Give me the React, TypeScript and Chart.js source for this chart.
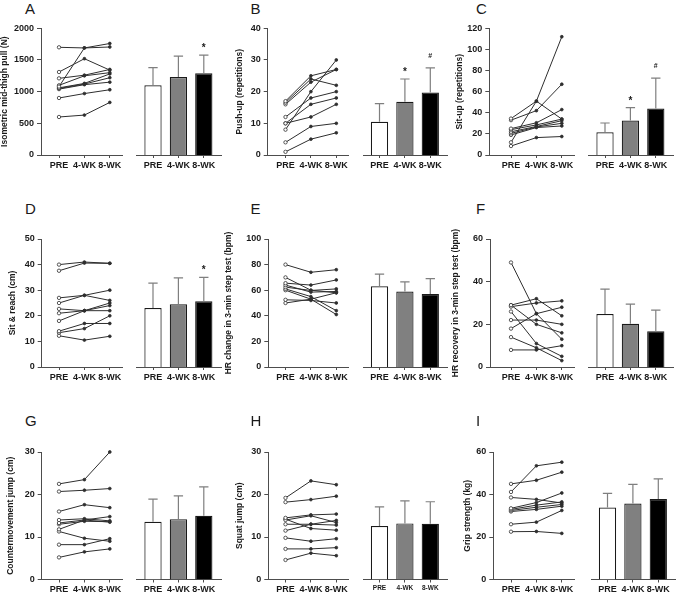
import React, { useEffect, useRef } from 'react';
import { Chart, registerables } from 'chart.js';

Chart.register(...registerables);

// ---- data -------------------------------------------------------------
const timepoints = ['PRE', '4-WK', '8-WK'];

// A: isometric mid-thigh pull (N), one row per participant
const imtpSubjects = [
  [1700, 1690, 1705],
  [1080, 1690, 1760],
  [1310, 1520, 1340],
  [1210, 1260, 1350],
  [1100, 1250, 1300],
  [1060, 1130, 1280],
  [1050, 1120, 1220],
  [1040, 1110, 1150],
  [900, 970, 1030],
  [600, 630, 830],
];
const imtpMean = [1100, 1230, 1290];
const imtpSd = [280, 330, 285];
const imtpMarks = ['', '', '*'];

// B: push-up (repetitions)
const pushSubjects = [
  [17, 25, 27],
  [16.5, 24, 22],
  [16, 23, 27],
  [12, 18, 20],
  [10, 16, 18],
  [8, 20, 30],
  [10, 12, 16],
  [4, 9, 10],
  [1, 5, 7],
];
const pushMean = [10.5, 16.8, 19.7];
const pushSd = [5.7, 7.2, 7.8];
const pushMarks = ['', '*', '#'];

// C: sit-up (repetitions)
const situpSubjects = [
  [12, 51, 112],
  [34.5, 51, 34],
  [33, 42, 67],
  [25, 30.5, 43],
  [24, 28.5, 34],
  [22, 27, 32.5],
  [20.5, 26.5, 30],
  [19, 26, 27.5],
  [8.5, 16.5, 17.5],
];
const situpMean = [21.5, 32.7, 44];
const situpSd = [8.8, 12.1, 28.8];
const situpMarks = ['', '*', '#'];

// D: sit & reach (cm)
const reachSubjects = [
  [40, 41, 40.5],
  [37.6, 40.6, 40.5],
  [27, 28, 26],
  [25, 28, 30],
  [22.7, 22, 22],
  [21, 22, 25],
  [18, 22, 24],
  [14, 17, 17],
  [13.4, 15, 20],
  [12.2, 10.5, 12],
];
const reachMean = [23, 24.5, 25.7];
const reachSd = [9.8, 10.3, 9.3];
const reachMarks = ['', '', '*'];

// E: HR change in 3-min step test (bpm)
const hrChangeSubjects = [
  [80, 74, 76],
  [70, 60, 58],
  [65.5, 64, 68],
  [64, 58.5, 59],
  [62.4, 59.8, 61],
  [61, 55, 44],
  [60, 53, 41],
  [52.5, 52, 50],
  [50, 53, 58],
];
const hrChangeMean = [63, 59, 57];
const hrChangeSd = [9.5, 7.5, 12];
const hrChangeMarks = ['', '', ''];

// F: HR recovery in 3-min step test (bpm)
const hrRecoverySubjects = [
  [49, 25, 13],
  [29, 32, 24],
  [28.3, 30, 31],
  [26, 11, 5],
  [22, 22, 20],
  [18, 25, 28],
  [14, 9, 3],
  [8, 8, 10],
  [29, 20, 16],
];
const hrRecoveryMean = [24.8, 20.3, 16.8];
const hrRecoverySd = [11.7, 9.2, 9.9];
const hrRecoveryMarks = ['', '', ''];

// G: countermovement jump (cm)
const cmjSubjects = [
  [22.5, 23.5, 30],
  [20.7, 21, 21.4],
  [16, 17.6, 16.9],
  [14, 14.3, 13.8],
  [13.3, 14, 14.8],
  [13, 13.7, 13.6],
  [11.8, 14, 13.5],
  [11.3, 9.7, 9],
  [8.2, 8.2, 9.6],
  [5.2, 6.5, 7.2],
];
const cmjMean = [13.6, 14.2, 15];
const cmjSd = [5.3, 5.5, 6.8];
const cmjMarks = ['', '', ''];

// H: squat jump (cm)
const sjSubjects = [
  [19.2, 23.2, 22.3],
  [18.2, 18.8, 19.6],
  [14.5, 15.2, 15.4],
  [14, 15, 13.4],
  [13, 13, 13.9],
  [11.5, 13, 12.8],
  [14.2, 12, 11.6],
  [9.8, 9, 9.6],
  [7.2, 7.2, 7.5],
  [4.6, 6.2, 5.6],
];
const sjMean = [12.6, 13.2, 13.1];
const sjSd = [4.5, 5.3, 5.2];
const sjMarks = ['', '', ''];

// I: grip strength (kg)
const gripSubjects = [
  [45, 46.7, 50.5],
  [41.2, 53.5, 55.2],
  [38.6, 37.7, 36],
  [33.5, 36.2, 40.7],
  [33, 35, 36.5],
  [32.5, 34, 35.3],
  [32, 33, 34.5],
  [26, 27, 32.5],
  [22.5, 22.6, 21.7],
];
const gripMean = [33.9, 35.8, 37.9];
const gripSd = [6.6, 9, 9.5];
const gripMarks = ['', '', ''];

// ---- styling / layout ---------------------------------------------------
const FONT = "'Liberation Sans', Arial, Helvetica, sans-serif";
const ink = '#1a1a1a';
const lineInk = '#2e2e2e';
const axisInk = '#4d4d4d';
const errInk = '#7f7f7f';
const barFills = ['#ffffff', '#808080', '#000000'];

const SPACING = 25.4; // px between time points
const colPre = [59, 285.5, 511];
const rowTop = [28.3, 239, 452];
const rowZero = [155, 367, 579.5];
const colLetterX = [25, 250.5, 476];
const rowLetterY = [1, 201, 413];

type PanelSpec = {
  letter: string;
  title: string;
  col: number;
  row: number;
  axisX: number;
  titleX: number;
  yMax: number;
  yStep: number;
  subjects: number[][];
  mean: number[];
  sd: number[];
  marks: string[];
  titleSize?: number;
  barTickSize?: number;
  barNudge?: number;
};

const panels: PanelSpec[] = [
  { letter: 'A', title: 'Isometric mid-thigh pull (N)', col: 0, row: 0, axisX: 41, titleX: 5, yMax: 2000, yStep: 500, subjects: imtpSubjects, mean: imtpMean, sd: imtpSd, marks: imtpMarks },
  { letter: 'B', title: 'Push-up (repetitions)', col: 1, row: 0, axisX: 267.7, titleX: 240, yMax: 40, yStep: 10, subjects: pushSubjects, mean: pushMean, sd: pushSd, marks: pushMarks },
  { letter: 'C', title: 'Sit-up (repetitions)', col: 2, row: 0, axisX: 489.3, titleX: 460.5, yMax: 120, yStep: 20, subjects: situpSubjects, mean: situpMean, sd: situpSd, marks: situpMarks },
  { letter: 'D', title: 'Sit & reach (cm)', col: 0, row: 1, axisX: 41.7, titleX: 13.3, yMax: 50, yStep: 10, subjects: reachSubjects, mean: reachMean, sd: reachSd, marks: reachMarks },
  { letter: 'E', title: 'HR change in 3-min step test (bpm)', col: 1, row: 1, axisX: 268.3, titleX: 229.5, yMax: 100, yStep: 20, subjects: hrChangeSubjects, mean: hrChangeMean, sd: hrChangeSd, marks: hrChangeMarks },
  { letter: 'F', title: 'HR recovery in 3-min step test (bpm)', col: 2, row: 1, axisX: 490, titleX: 456.3, yMax: 60, yStep: 20, subjects: hrRecoverySubjects, mean: hrRecoveryMean, sd: hrRecoverySd, marks: hrRecoveryMarks },
  { letter: 'G', title: 'Countermovement jump (cm)', col: 0, row: 2, axisX: 41.7, titleX: 10.7, yMax: 30, yStep: 10, subjects: cmjSubjects, mean: cmjMean, sd: cmjSd, marks: cmjMarks },
  { letter: 'H', title: 'Squat jump (cm)', col: 1, row: 2, axisX: 268.3, titleX: 240, yMax: 30, yStep: 10, subjects: sjSubjects, mean: sjMean, sd: sjSd, marks: sjMarks, barTickSize: 6.5 },
  { letter: 'I', title: 'Grip strength (kg)', col: 2, row: 2, axisX: 493.3, titleX: 468.3, yMax: 60, yStep: 20, subjects: gripSubjects, mean: gripMean, sd: gripSd, marks: gripMarks, barNudge: 2.5 },
];

// Upper SD whiskers plus significance symbols above the bars
const errorBarPlugin = {
  id: 'errorBars',
  afterDatasetsDraw(chart: any, _args: any, opts: any) {
    const { ctx } = chart;
    const yScale = chart.scales.y;
    const meta = chart.getDatasetMeta(0);
    ctx.save();
    meta.data.forEach((bar: any, i: number) => {
      const top = yScale.getPixelForValue(opts.mean[i] + opts.sd[i]);
      const half = bar.width * 0.27;
      ctx.strokeStyle = errInk;
      ctx.lineWidth = 1.2;
      ctx.beginPath();
      ctx.moveTo(bar.x, bar.y);
      ctx.lineTo(bar.x, top);
      ctx.moveTo(bar.x - half, top);
      ctx.lineTo(bar.x + half, top);
      ctx.stroke();
      const mark = opts.marks[i];
      if (mark) {
        ctx.fillStyle = ink;
        ctx.textAlign = 'center';
        ctx.textBaseline = 'alphabetic';
        if (mark === '#') {
          ctx.font = `bold 7px ${FONT}`;
          ctx.fillText(mark, bar.x, top - 10);
        } else {
          ctx.font = `bold 10px ${FONT}`;
          ctx.fillText(mark, bar.x, top - 4);
        }
      }
    });
    ctx.restore();
  },
};

function Panel({ p }: { p: PanelSpec }) {
  const lineRef = useRef<HTMLCanvasElement>(null);
  const barRef = useRef<HTMLCanvasElement>(null);

  const pre = colPre[p.col];
  const yTop = rowTop[p.row];
  const yZero = rowZero[p.row];
  const titleSize = p.titleSize ?? 8.5;
  const nudge = p.barNudge ?? 0;

  const lineEnd = pre + 63.3;
  const ct = Math.round(yTop - 12);
  const h = Math.round(yZero + 18) - ct;
  const cl = Math.round(p.titleX - (titleSize * 1.2) / 2);
  const lw = Math.round(lineEnd + 6) - cl;

  const barPre = pre + 94 + nudge;
  const barStart = pre + 77.5 + nudge;
  const barEnd = pre + 162 + nudge;
  const bl = Math.round(barStart - 6);
  const bw = Math.round(barEnd + 5) - bl;

  useEffect(() => {
    const tickFont = { family: FONT, size: 9, weight: 'bold' as const };
    const xTicks = (s: any) => {
      s.ticks = timepoints.map((_, i) => ({ value: i }));
    };
    const xLabel = (v: any) => timepoints[Math.round(Number(v))] ?? '';

    const lineChart = new Chart(lineRef.current as HTMLCanvasElement, {
      type: 'line',
      data: {
        datasets: p.subjects.map((s) => ({
          data: s.map((v, i) => ({ x: i, y: v })),
          borderColor: lineInk,
          borderWidth: 1,
          pointRadius: [1.7, 1.4, 1.4],
          pointBorderWidth: 0.8,
          pointBorderColor: lineInk,
          pointBackgroundColor: ['#ffffff', lineInk, lineInk],
          tension: 0,
          fill: false,
          clip: false,
        })),
      },
      options: {
        animation: false,
        responsive: false,
        devicePixelRatio: 1,
        events: [],
        layout: { padding: { top: yTop - ct, right: cl + lw - lineEnd, left: 0, bottom: 0 } },
        plugins: { legend: { display: false }, tooltip: { enabled: false } },
        scales: {
          x: {
            type: 'linear',
            min: (p.axisX - pre) / SPACING,
            max: (lineEnd - pre) / SPACING,
            afterBuildTicks: xTicks,
            afterFit: (s: any) => {
              s.height = ct + h - yZero;
            },
            ticks: { callback: xLabel, font: tickFont, color: ink, padding: 2, maxRotation: 0, autoSkip: false },
            grid: { drawOnChartArea: false, tickLength: 3, color: axisInk, lineWidth: 1 },
            border: { color: axisInk, width: 1 },
          },
          y: {
            min: 0,
            max: p.yMax,
            afterFit: (s: any) => {
              s.width = p.axisX - cl;
            },
            ticks: { stepSize: p.yStep, font: tickFont, color: ink, padding: 3, callback: (v: any) => String(v) },
            title: {
              display: true,
              text: p.title,
              font: { family: FONT, size: titleSize, weight: 'bold' },
              color: ink,
              padding: 0,
            },
            grid: { drawOnChartArea: false, tickLength: 4, color: axisInk, lineWidth: 1 },
            border: { color: axisInk, width: 1 },
          },
        },
      } as any,
    });

    const barChart = new Chart(barRef.current as HTMLCanvasElement, {
      type: 'bar',
      data: {
        datasets: [
          {
            data: p.mean.map((m, i) => ({ x: i, y: m })),
            backgroundColor: barFills,
            borderColor: ink,
            borderWidth: 1.2,
            barPercentage: 0.68,
            categoryPercentage: 1,
          },
        ],
      },
      options: {
        animation: false,
        responsive: false,
        devicePixelRatio: 1,
        events: [],
        layout: { padding: { top: yTop - ct, left: barStart - bl, right: bl + bw - barEnd, bottom: 0 } },
        plugins: {
          legend: { display: false },
          tooltip: { enabled: false },
          errorBars: { mean: p.mean, sd: p.sd, marks: p.marks },
        },
        scales: {
          x: {
            type: 'linear',
            offset: false,
            min: (barStart - barPre) / SPACING,
            max: (barEnd - barPre) / SPACING,
            afterBuildTicks: xTicks,
            afterFit: (s: any) => {
              s.height = ct + h - yZero;
            },
            ticks: {
              callback: xLabel,
              font: { ...tickFont, size: p.barTickSize ?? 9 },
              color: ink,
              padding: 2,
              maxRotation: 0,
              autoSkip: false,
            },
            grid: { offset: false, drawOnChartArea: false, tickLength: 3, color: axisInk, lineWidth: 1 },
            border: { color: axisInk, width: 1 },
          },
          y: { display: false, min: 0, max: p.yMax },
        },
      } as any,
      plugins: [errorBarPlugin],
    });

    return () => {
      lineChart.destroy();
      barChart.destroy();
    };
  }, []);

  return (
    <>
      <div
        style={{
          position: 'absolute',
          left: colLetterX[p.col],
          top: rowLetterY[p.row],
          fontFamily: FONT,
          fontSize: 15,
          lineHeight: '15px',
          color: ink,
        }}
      >
        {p.letter}
      </div>
      <canvas
        ref={lineRef}
        width={lw}
        height={h}
        style={{ position: 'absolute', left: cl, top: ct, width: lw, height: h }}
      />
      <canvas
        ref={barRef}
        width={bw}
        height={h}
        style={{ position: 'absolute', left: bl, top: ct, width: bw, height: h }}
      />
    </>
  );
}

export default function App() {
  return (
    <div
      style={{
        position: 'absolute',
        left: 0,
        top: 0,
        width: 677,
        height: 593,
        overflow: 'hidden',
        background: '#ffffff',
      }}
    >
      {panels.map((p) => (
        <Panel key={p.letter} p={p} />
      ))}
    </div>
  );
}
